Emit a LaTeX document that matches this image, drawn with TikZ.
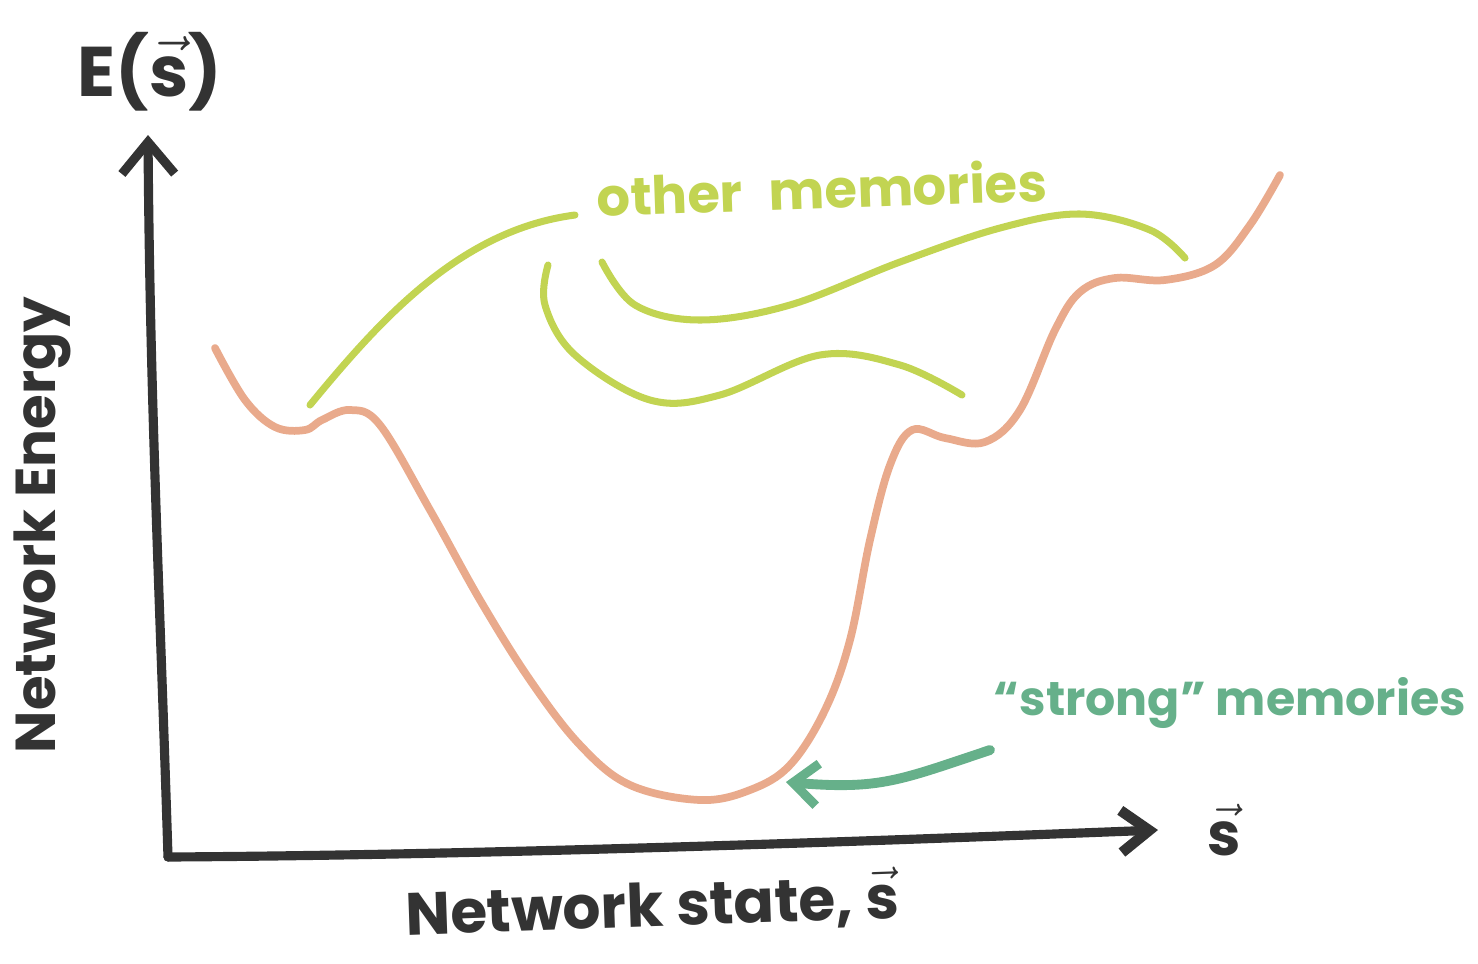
\documentclass[tikz,border=0pt]{standalone}
\usepackage{fontspec}
\setmainfont{Poppins}
\usetikzlibrary{arrows.meta,positioning}
\definecolor{ink}{HTML}{333333}
\definecolor{peach}{HTML}{E9AA8C}
\definecolor{lime}{HTML}{C2D452}
\definecolor{sage}{HTML}{66B08A}
\newcommand{\svec}{$\vec{\mbox{s}}$}
\tikzset{
  axis/.style   = {draw=ink, line width=2.6pt, line cap=round, line join=round},
  well/.style   = {draw=peach, line width=2.2pt, line cap=round},
  mem/.style    = {draw=lime, line width=2pt, line cap=round},
  hint/.style   = {draw=sage, line width=2.8pt, line cap=round},
  label/.style  = {inner sep=0pt, font=\fontsize{17}{20}\selectfont\bfseries, text=ink},
  memlabel/.style = {label, font=\fontsize{15}{18}\selectfont\bfseries, text=lime},
  stronglabel/.style = {label, font=\fontsize{13.5}{16}\selectfont\bfseries, text=sage}
}

\begin{document}
\begin{tikzpicture}[x=0.01cm, y=-0.01cm]
\useasboundingbox (0,0) rectangle (1478,963);

% axes
\coordinate (origin) at (168,857);
\coordinate (ytop)   at (148,135);
\coordinate (xend)   at (1158,830);
\draw[axis, -{Straight Barb[length=9pt, width=15pt, line width=2.6pt]}]
  (origin) .. controls (160,600) and (150,400) .. (ytop);
\draw[axis, -{Straight Barb[length=8pt, width=12pt, line width=3pt]}]
  (origin) .. controls (500,855) and (900,840) .. (xend);

% axis labels
\node[label, rotate=90, font=\fontsize{16}{19}\selectfont\bfseries] (ylabel) at (42,525) {Network Energy};
\node[label, rotate=2] (xlabel) at (652,905) {Network state, \svec};
\node[label, font=\fontsize{20}{24}\selectfont\bfseries] (etop) at (150,72) {E(\svec)};
\node[label, right=14pt of xend] (sx) {\svec};

% energy landscape
\draw[well] plot[smooth, tension=0.6] coordinates {
  (215,348) (245,400) (275,427) (305,430) (322,420) (350,410) (380,425)
  (430,510) (480,600) (530,680) (580,745) (630,785) (700,800) (750,790)
  (790,765) (825,710) (850,640) (870,540) (890,465) (912,430) (945,438)
  (985,442) (1020,410) (1055,330) (1080,292) (1115,278) (1165,280)
  (1215,265) (1250,225) (1280,175)};

% other memories
\node[memlabel, rotate=2] (other) at (822,188) {other\enspace memories};
\draw[mem] (310,405) .. controls (380,320) and (460,230) .. (575,215);
\draw[mem] plot[smooth, tension=0.6] coordinates {
  (548,265) (545,305) (575,355) (650,400) (720,395) (820,355) (900,365) (962,395)};
\draw[mem] plot[smooth, tension=0.6] coordinates {
  (602,262) (635,305) (700,320) (790,305) (900,262) (1000,228) (1080,214)
  (1150,230) (1185,258)};

% strong memories
\node[stronglabel] (strong) at (1230,703) {``strong'' memories};
\coordinate (tipend) at (786,782);
\draw[hint, -{Straight Barb[length=7pt, width=12pt, line width=2.6pt]}]
  (990,750) .. controls (900,780) and (880,790) .. (tipend);

\end{tikzpicture}
\end{document}
